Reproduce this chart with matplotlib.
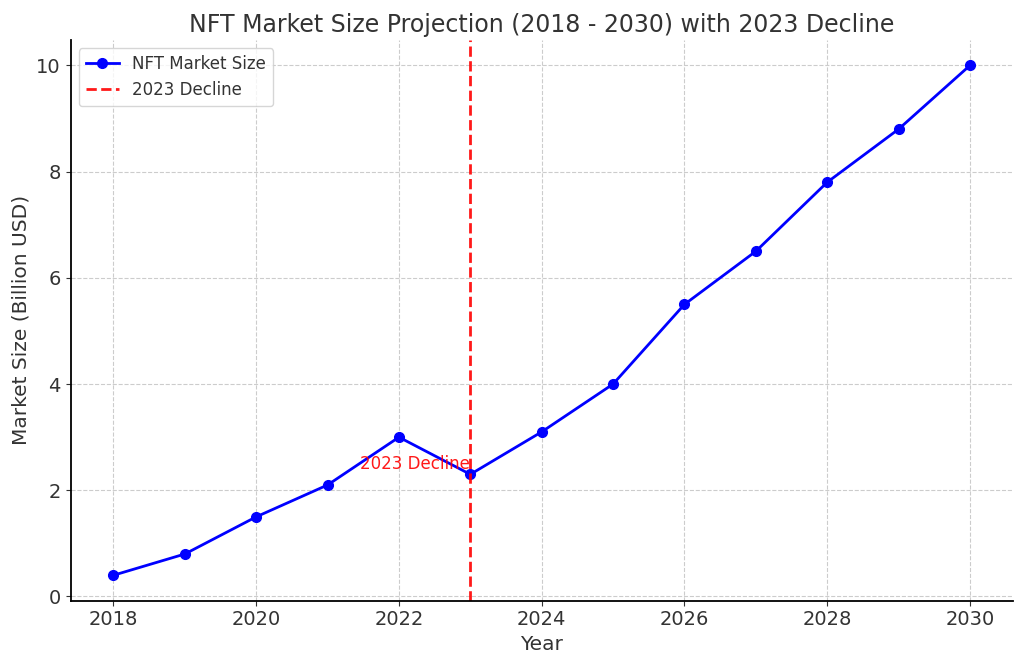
import matplotlib.pyplot as plt

# Data
years = [2018, 2019, 2020, 2021, 2022, 2023, 2024, 2025, 2026, 2027, 2028, 2029, 2030]
market_size = [0.4, 0.8, 1.5, 2.1, 3.0, 2.3, 3.1, 4.0, 5.5, 6.5, 7.8, 8.8, 10.0]
decline_year = 2023
decline_label = "2023 Decline"

text_color = "#333333"
plt.rcParams['text.color'] = text_color
plt.rcParams['axes.labelcolor'] = text_color
plt.rcParams['xtick.color'] = text_color
plt.rcParams['ytick.color'] = text_color

fig, ax = plt.subplots(figsize=(10.24, 6.66), dpi=100)
fig.subplots_adjust(left=0.069, right=0.989, top=0.94, bottom=0.098)

ax.plot(years, market_size, marker='o', color='blue', linewidth=2, markersize=7,
        label="NFT Market Size")
ax.axvline(decline_year, color='red', linestyle='--', linewidth=2, alpha=0.9,
           label=decline_label)
ax.text(decline_year, 2.5, decline_label, color='red', alpha=0.9, ha='right',
        va='center', fontsize=12)

ax.set_title("NFT Market Size Projection (2018 - 2030) with 2023 Decline", fontsize=17)
ax.set_xlabel("Year", fontsize=14.5)
ax.set_ylabel("Market Size (Billion USD)", fontsize=14.5)
ax.tick_params(labelsize=14)
ax.set_xticks(range(2018, 2031, 2))

ax.grid(True, linestyle='--', color='#cccccc', linewidth=0.8)
ax.spines['top'].set_visible(False)
ax.spines['right'].set_visible(False)
ax.spines['left'].set_linewidth(1.3)
ax.spines['bottom'].set_linewidth(1.3)

ax.legend(loc='upper left', fontsize=12)

plt.savefig("out.png", dpi=100)
